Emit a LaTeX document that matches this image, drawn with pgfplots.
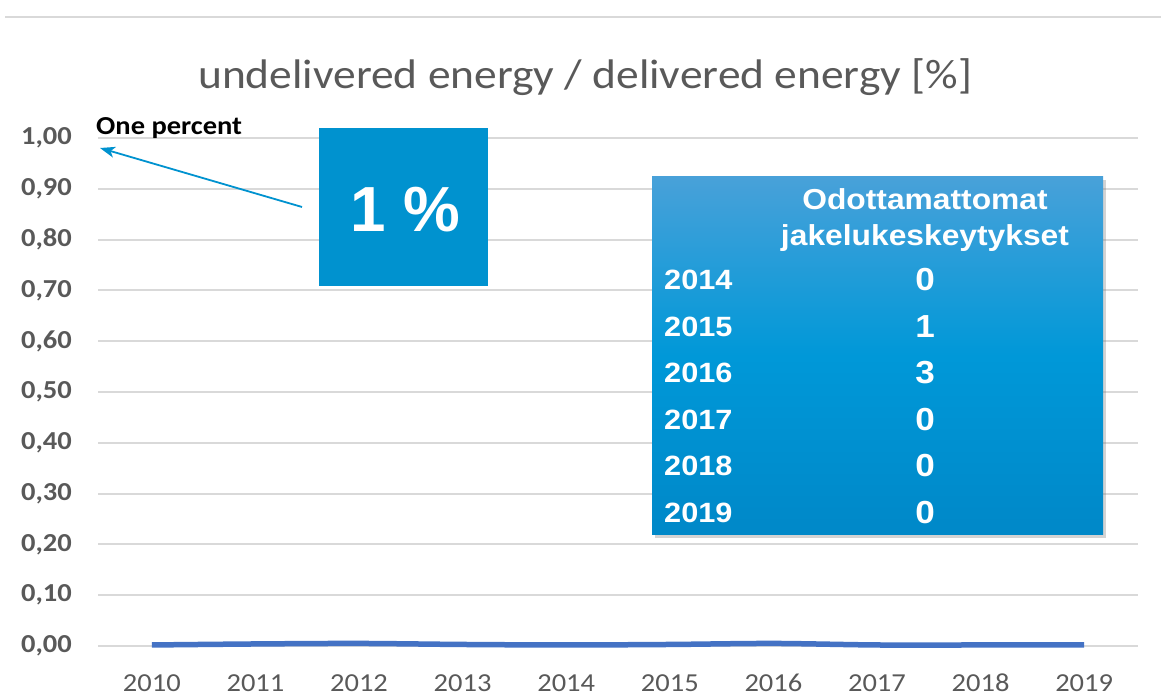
\documentclass[border=0pt]{standalone}
\usepackage{fontspec}
\usepackage{pgfplots}
\pgfplotsset{compat=1.18}
\usetikzlibrary{shadows,arrows.meta}
\setmainfont{Carlito}
\newfontfamily\calfont[FakeStretch=1.1]{Carlito}
\newfontfamily\arifont[FakeStretch=1.1]{Liberation Sans}
\newfontfamily\arifontn{Liberation Sans}
\definecolor{gridgray}{HTML}{D9D9D9}
\definecolor{txtgray}{HTML}{595959}
\definecolor{lineblue}{HTML}{4472C4}
\definecolor{boxblue}{RGB}{0,146,207}
\definecolor{tabtop}{RGB}{72,161,217}
\definecolor{tabmid}{RGB}{0,152,216}
\definecolor{tabbot}{RGB}{0,136,200}
\begin{document}
\begin{tikzpicture}[x=1bp,y=1bp]
\draw[gridgray, line width=1.5bp] (5,681) -- (1161,681);
\begin{axis}[at={(98bp,52bp)}, anchor=south west, scale only axis,
  width=1040bp, height=508bp,
  xmin=2009.48, xmax=2019.52, ymin=0, ymax=1,
  axis line style={draw=none}, major tick length=0pt,
  ymajorgrids, grid style={gridgray, line width=2bp},
  xtick={2010,2011,2012,2013,2014,2015,2016,2017,2018,2019},
  xticklabels={2010,2011,2012,2013,2014,2015,2016,2017,2018,2019},
  ytick={0,0.1,0.2,0.3,0.4,0.5,0.6,0.7,0.8,0.9,1},
  yticklabels={{0,00},{0,10},{0,20},{0,30},{0,40},{0,50},{0,60},{0,70},{0,80},{0,90},{1,00}},
  yticklabel style={font=\calfont\bfseries\fontsize{26}{30}\selectfont, text=txtgray, anchor=east, inner sep=0pt, xshift=-26bp},
  xticklabel style={font=\calfont\fontsize{26}{30}\selectfont, text=txtgray, anchor=north, inner sep=0pt, yshift=-28bp},
  clip=false]
\addplot[lineblue, line width=5.5bp, smooth] coordinates {
 (2010,0.002) (2011,0.004) (2012,0.005) (2013,0.003) (2014,0.002)
 (2015,0.003) (2016,0.005) (2017,0.002) (2018,0.002) (2019,0.002)};
\end{axis}
% title
\node[anchor=base, font=\calfont\fontsize{41.5}{48}\selectfont, text=txtgray, inner sep=0pt] at (585,609) {undelivered energy / delivered energy [\%]};
% one percent
\node[anchor=base west, font=\calfont\bfseries\fontsize{26}{30}\selectfont, inner sep=0pt] at (96,563) {One percent};
\draw[boxblue, line width=1.8bp, -{Stealth[length=15bp,width=11bp,inset=4bp]}] (302,491) -- (100,550);
% 1 % box
\fill[boxblue] (319,412) rectangle (488,570);
\node[anchor=base, font=\arifontn\bfseries\fontsize{64}{70}\selectfont, text=white, inner sep=0pt] at (405,466) {1 \%};
% table box
\shade[top color=tabtop, bottom color=tabbot, middle color=tabmid, drop shadow={shadow xshift=3bp, shadow yshift=-3bp, opacity=0.35}] (652,163) rectangle (1103,521);
\begin{scope}[every node/.style={font=\arifont\bfseries\fontsize{28}{32}\selectfont, text=white, inner sep=0pt},
  val/.style={anchor=base, font=\arifont\bfseries\fontsize{32}{36}\selectfont}]
\node[anchor=base, font=\arifont\bfseries\fontsize{29}{32}\selectfont] at (925,488) {Odottamattomat};
\node[anchor=base, font=\arifont\bfseries\fontsize{29}{32}\selectfont] at (925,452) {jakelukeskeytykset};
\node[anchor=base west] at (664,408) {2014}; \node[val] at (925,407) {0};
\node[anchor=base west] at (664,361) {2015}; \node[val] at (925,360) {1};
\node[anchor=base west] at (664,315) {2016}; \node[val] at (925,314) {3};
\node[anchor=base west] at (664,268) {2017}; \node[val] at (925,267) {0};
\node[anchor=base west] at (664,222) {2018}; \node[val] at (925,221) {0};
\node[anchor=base west] at (664,175) {2019}; \node[val] at (925,174) {0};
\end{scope}
\pgfresetboundingbox
\useasboundingbox (0,0) rectangle (1161,698);
\end{tikzpicture}
\end{document}
